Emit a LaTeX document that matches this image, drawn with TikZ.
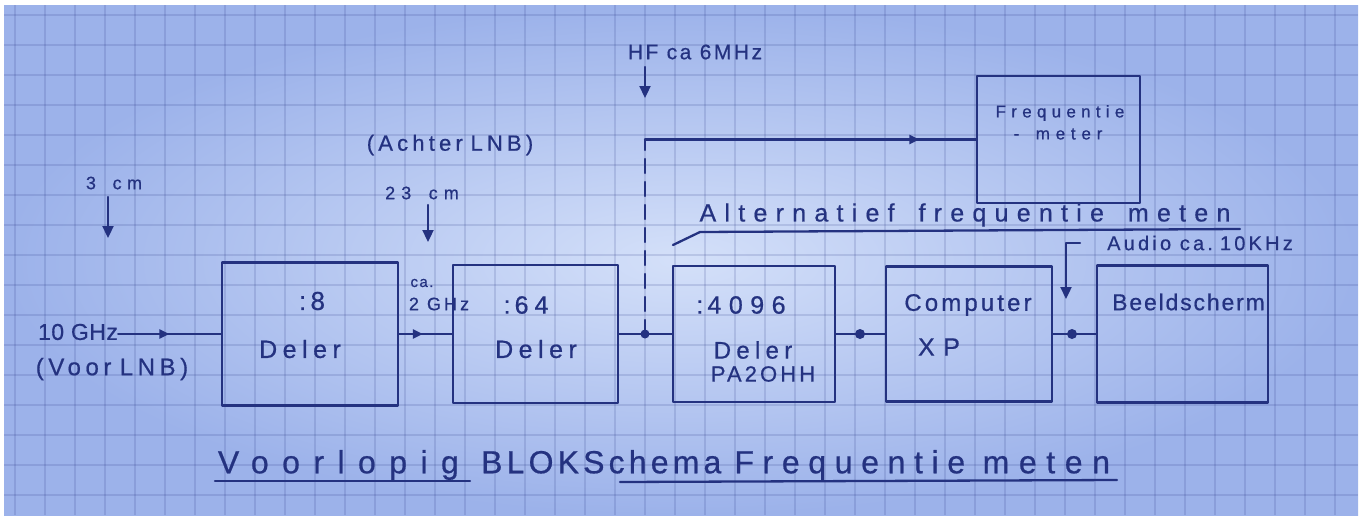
\documentclass[tikz,border=0pt]{standalone}
\usepackage{fontspec}
\setmainfont{Liberation Sans}
\usetikzlibrary{arrows.meta,decorations.markings,calc}
\definecolor{inkc}{RGB}{36,50,128}
\definecolor{paperC}{RGB}{212,224,249}
\definecolor{paperE}{RGB}{156,178,234}
\newcommand\hw[3]{\fontsize{#1}{#1}\selectfont\addfontfeature{LetterSpace=#2,FakeBold=0.6}#3}
\newcommand\ws{\hspace{0.35em}}
\tikzset{
  ink/.style={draw=inkc, line width=2.7pt, line cap=round, line join=round},
  thin ink/.style={draw=inkc, line width=2.3pt, line cap=round, line join=round},
  blk/.style={ink, rectangle, inner sep=0pt},
  lbl/.style={text=inkc, inner sep=0pt},
  midarrow/.style={postaction={decorate}, decoration={markings,
      mark=at position #1 with {\arrow[inkc]{Triangle[length=10pt,width=9pt]}}}},
  downarrow/.style={thin ink, -{Triangle[length=12pt,width=11pt]}},
  jdot/.style={fill=inkc},
  gridl/.style={draw=inkc, draw opacity=0.15, line width=1.5pt}
}
\begin{document}
\begin{tikzpicture}[x=1pt,y=-1pt]
\useasboundingbox (0,0) rectangle (1363,517);
\fill[white] (0,0) rectangle (1363,517);
\shade[inner color=paperC, outer color=paperE] (4,5) rectangle (1358,515);
\foreach \x in {15,45,...,1355} \draw[gridl] (\x,5) -- (\x,515);
\foreach \y in {15,45,...,515} \draw[gridl] (4,\y) -- (1358,\y);

% blocks
\node[blk, minimum width=176pt, minimum height=143pt] (b1) at (310,334) {};
\node[blk, minimum width=165pt, minimum height=138pt] (b2) at (535.5,334) {};
\node[blk, minimum width=162pt, minimum height=136pt] (b3) at (754,334) {};
\node[blk, minimum width=166pt, minimum height=135pt] (b4) at (969,334) {};
\node[blk, minimum width=171pt, minimum height=137pt] (b5) at (1182.5,334) {};
\node[blk, minimum width=163pt, minimum height=127pt] (b6) at (1058.5,139.5) {};

% block texts
\node[lbl] (d1a) at (312,301) {\hw{26}{28}{:\,8}};
\node[lbl] (d1b) at (300,349) {\hw{25}{22}{Deler}};
\node[lbl] (d2a) at (526,305) {\hw{25}{24}{:\,64}};
\node[lbl] (d2b) at (536,349) {\hw{25}{22}{Deler}};
\node[lbl] (d3a) at (741,305) {\hw{25}{30}{:\,4096}};
\node[lbl] (d3b) at (753,350) {\hw{24}{22}{Deler}};
\node[lbl] (d3c) at (763,374) {\hw{22}{14}{PA2OHH}};
\node[lbl] (d4a) at (968,305) {\hw{24}{13}{Computer}};
\node[lbl] (d4b) at (939,347) {\hw{25}{34}{XP}};
\node[lbl, anchor=west] (d5a) at (1112,302) {\hw{23}{8}{Beeldscherm}};
\node[lbl] (d6a) at (1060,113) {\hw{17}{31}{Frequentie}};
\node[lbl] (d6b) at (1058,134) {\hw{17}{34}{-\ws\ meter}};

% free labels
\node[lbl] (t10) at (78,332) {\hw{23}{2}{10 GHz}};
\node[lbl] (tvoor) at (112,369) {\hw{24}{19}{(Voor\ws LNB)}};
\node[lbl] (t3) at (114,183) {\hw{18}{30}{3\ws\ cm}};
\node[lbl] (t23) at (422,193) {\hw{18}{34}{23\ws\ cm}};
\node[lbl] (tach) at (450,145) {\hw{22}{19}{(Achter\ws LNB)}};
\node[lbl] (tca) at (422,283) {\hw{15}{10}{ca.}};
\node[lbl] (t2g) at (439,304) {\hw{18}{17}{2 GHz}};
\node[lbl] (thf) at (695,52) {\hw{21}{12}{HF ca 6MHz}};
\node[lbl] (talt) at (965,215) {\hw{25}{33}{Alternatief\ws\ frequentie\ws\ meten}};
\node[lbl] (taud) at (1200,243) {\hw{20}{16}{Audio ca.\ws 10KHz}};
\node[lbl] (title) at (664,465) {\hw{32}{42}{Voorlopig} \hw{32}{13}{BLOKSchema}\ \hw{32}{27}{Frequentie}\ \hw{32}{30}{meten}};

% junctions and auxiliary points
\coordinate (j2) at (645,334);
\coordinate (j3) at (860,334);
\coordinate (j4) at (1072,334);
\coordinate (hfc) at (645,139.5);
\coordinate (hf1) at (645,67);
\coordinate (hf2) at (645,98);
\coordinate (c3a) at (108,197);
\coordinate (c3b) at (108,238);
\coordinate (c23a) at (428,205);
\coordinate (c23b) at (428,242);
\coordinate (au1) at (1080,243);
\coordinate (au2) at (1066,243);
\coordinate (au3) at (1066,299);
\coordinate (al0) at (673,245);
\coordinate (al1) at (700,232);
\coordinate (al2) at (1240,229);
\coordinate (u1a) at (215,481);
\coordinate (u1b) at (470,481);
\coordinate (u2a) at (620,482);
\coordinate (u2b) at (1117,480);

% connectors
\draw[thin ink, midarrow=0.5] (t10.east |- b1.west) -- (b1.west);
\draw[thin ink, midarrow=0.45] (b1.east) -- (b2.west);
\draw[thin ink] (b2.east) -- (j2) -- (b3.west);
\draw[thin ink] (b3.east) -- (j3) -- (b4.west);
\draw[thin ink] (b4.east) -- (j4) -- (b5.west);
\fill[jdot] (j2) circle (4.5);
\fill[jdot] (j3) circle (5);
\fill[jdot] (j4) circle (5);
\draw[thin ink, dash pattern=on 14pt off 9pt] (j2) -- (hfc);
\draw[thin ink, midarrow=0.83] (hfc) -- (b6.west);
\draw[downarrow] (hf1) -- (hf2);
\draw[downarrow] (c3a) -- (c3b);
\draw[downarrow] (c23a) -- (c23b);
\draw[downarrow] (au1) -- (au2) -- (au3);
\draw[thin ink] (al0) -- (al1) -- (al2);
\draw[thin ink] (u1a) -- (u1b);
\draw[thin ink] (u2a) -- (u2b);
\end{tikzpicture}
\end{document}
